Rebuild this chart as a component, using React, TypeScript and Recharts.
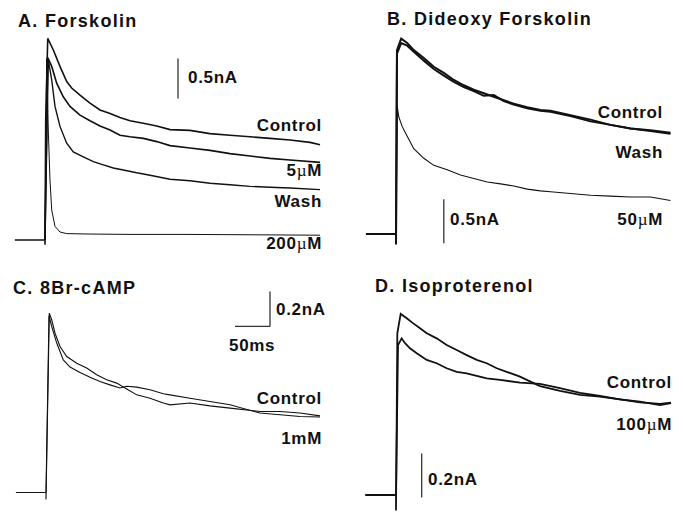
import { Line, LineChart, ReferenceLine, XAxis, YAxis } from "recharts"

// [time from voltage step (ms), current (nA)]
type Pt = [number, number]

// A. Forskolin
const aControl: Pt[] = [
  [-43, 0], [0, 0], [0, -0.06], [1, 1.5], [3.9, 2.52], [11.9, 2.375], [21.4, 2.17],
  [31, 1.98], [38.1, 1.9], [50, 1.81], [64.3, 1.71], [78.6, 1.625], [92.9, 1.58],
  [107.1, 1.53], [121.4, 1.49], [140.4, 1.46], [159.6, 1.425], [178.6, 1.38],
  [207.1, 1.37], [235.7, 1.33], [264.3, 1.31], [292.9, 1.29], [321.4, 1.27],
  [350, 1.25], [378.6, 1.22], [392.9, 1.19],
]
const a5uM: Pt[] = [
  [0, 0], [3.9, 2.28], [9.6, 2.17], [16.7, 1.96], [26.1, 1.79], [35.7, 1.67], [50, 1.56],
  [64.3, 1.49], [78.6, 1.425], [92.9, 1.375], [107.1, 1.31], [121.4, 1.29],
  [140.4, 1.27], [159.6, 1.23], [178.6, 1.18], [207.1, 1.15], [235.7, 1.12],
  [264.3, 1.08], [292.9, 1.05], [321.4, 1.02], [350, 1.0], [392.9, 0.97],
]
const aWash: Pt[] = [
  [0, 0], [4.7, 2.25], [9.6, 2.0], [14.3, 1.67], [21.4, 1.42], [31, 1.21], [40.4, 1.1],
  [54.7, 1.04], [69, 0.98], [83.3, 0.94], [97.6, 0.9], [111.9, 0.875], [131, 0.84],
  [150, 0.81], [178.6, 0.76], [207.1, 0.74], [235.7, 0.71], [264.3, 0.69],
  [292.9, 0.67], [321.4, 0.66], [350, 0.65], [392.9, 0.63],
]
const a200uM: Pt[] = [
  [0, 0], [2.4, 2.27], [4.7, 1.375], [7.1, 0.75], [9.6, 0.375], [14.3, 0.17],
  [21.4, 0.1], [31, 0.08], [60, 0.075], [120, 0.07], [200, 0.07], [300, 0.065],
  [392.9, 0.06],
]

// B. Dideoxy Forskolin
const bControl: Pt[] = [
  [-43, 0], [0, 0], [0, -0.12], [1.4, 2.09], [7.4, 2.22], [16, 2.17], [25.4, 2.09],
  [39.7, 2.0], [54, 1.9], [68.3, 1.83], [82.6, 1.75], [96.9, 1.69], [111.1, 1.64],
  [125.4, 1.6], [139.7, 1.56], [154, 1.52], [168.3, 1.48], [187.4, 1.44],
  [206.4, 1.41], [220.7, 1.4], [249.3, 1.35], [277.9, 1.3], [306.4, 1.24],
  [335, 1.2], [363.6, 1.18], [392.1, 1.15],
]
const bWash: Pt[] = [
  [0, 0], [1.4, 2.05], [7.4, 2.17], [16, 2.14], [25.4, 2.07], [39.7, 1.97],
  [54, 1.875], [68.3, 1.8], [82.6, 1.73], [96.9, 1.67], [111.1, 1.625], [125.4, 1.57],
  [139.7, 1.58], [154, 1.51], [168.3, 1.47], [187.4, 1.43], [206.4, 1.4],
  [220.7, 1.39], [249.3, 1.34], [277.9, 1.28], [306.4, 1.24], [335, 1.2],
  [363.6, 1.17], [392.1, 1.14],
]
const b50uM: Pt[] = [
  [0, 0], [1.7, 1.45], [4, 1.33], [8.9, 1.22], [16, 1.11], [25.4, 0.97], [39.7, 0.86],
  [54, 0.78], [73.1, 0.73], [92.1, 0.67], [111.1, 0.63], [130.3, 0.59], [149.3, 0.57],
  [168.3, 0.545], [187.4, 0.51], [206.4, 0.49], [220.7, 0.48], [249.3, 0.46],
  [277.9, 0.44], [306.4, 0.43], [335, 0.42], [363.6, 0.42], [392.1, 0.38],
]

// C. 8Br-cAMP
const cControl: Pt[] = [
  [-43, 0], [0, 0], [0, -0.04], [4.7, 1.025], [8.1, 0.987], [12.9, 0.91], [20, 0.834],
  [29.6, 0.777], [43.9, 0.739], [58.1, 0.711], [72.4, 0.673], [86.7, 0.644],
  [101, 0.625], [115.3, 0.592], [129.6, 0.558], [148.6, 0.539], [167.6, 0.511],
  [177.1, 0.501], [205.7, 0.511], [234.3, 0.495], [262.9, 0.482], [305.7, 0.463],
  [334.3, 0.463], [362.9, 0.454], [391.4, 0.438],
]
const c1mM: Pt[] = [
  [0, 0], [4.3, 1.01], [8.1, 0.949], [15.3, 0.854], [24.7, 0.758], [34.3, 0.717],
  [48.6, 0.686], [62.9, 0.659], [77.1, 0.634], [91.4, 0.615], [105.7, 0.597],
  [115.3, 0.607], [129.6, 0.602], [148.6, 0.587], [167.6, 0.564], [177.1, 0.558],
  [205.7, 0.539], [234.3, 0.52], [262.9, 0.501], [305.7, 0.454], [334.3, 0.444],
  [362.9, 0.434], [391.4, 0.431],
]

// D. Isoproterenol
const dControl: Pt[] = [
  [-44, 0], [0, 0], [0, -0.07], [1.9, 0.736], [6.7, 0.823], [15.3, 0.803], [24.7, 0.78],
  [34.3, 0.758], [43.9, 0.735], [58.1, 0.712], [72.4, 0.682], [86.7, 0.659],
  [101, 0.636], [115.3, 0.614], [129.6, 0.599], [143.9, 0.576], [158.1, 0.56],
  [177.1, 0.538], [205.7, 0.495], [234.3, 0.473], [262.9, 0.455], [291.4, 0.447],
  [320, 0.435], [348.6, 0.424], [377.1, 0.409], [392.9, 0.418],
]
const d100uM: Pt[] = [
  [0, 0], [2.9, 0.682], [8.1, 0.712], [12.9, 0.69], [20, 0.667], [29.6, 0.644],
  [43.9, 0.614], [58.1, 0.599], [72.4, 0.576], [86.7, 0.56], [101, 0.553],
  [115.3, 0.541], [129.6, 0.53], [148.6, 0.523], [177.1, 0.511], [205.7, 0.505],
  [234.3, 0.486], [262.9, 0.464], [291.4, 0.45], [320, 0.435], [348.6, 0.421],
  [377.1, 0.414], [392.9, 0.42],
]

// scale bars: [[t, i], [t, i]]
const barA: Pt[] = [[190, 1.77], [190, 2.27]]
const barB: Pt[] = [[68.3, -0.106], [68.3, 0.394]]
const barCv: Pt[] = [[320, 0.949], [320, 1.149]]
const barCh: Pt[] = [[270, 0.949], [320, 0.949]]
const barD: Pt[] = [[36.7, -0.011], [36.7, 0.189]]

const PX_PER_MS = 0.7
const FONT = "'Liberation Sans', Arial, Helvetica, sans-serif"

type Trace = { pts: Pt[]; width: number }

type PanelProps = {
  left: number
  top: number
  xDomain: [number, number]
  yDomain: [number, number]
  pxPerNa: number
  traces: Trace[]
  bars: Pt[][]
}

function Panel({ left, top, xDomain, yDomain, pxPerNa, traces, bars }: PanelProps) {
  const width = (xDomain[1] - xDomain[0]) * PX_PER_MS
  const height = (yDomain[1] - yDomain[0]) * pxPerNa
  return (
    <div style={{ position: "absolute", left, top }}>
      <LineChart
        width={width}
        height={height}
        margin={{ top: 0, right: 0, bottom: 0, left: 0 }}
      >
        <XAxis type="number" dataKey="t" domain={xDomain} hide allowDataOverflow />
        <YAxis type="number" dataKey="i" domain={yDomain} hide allowDataOverflow />
        {bars.map((b, k) => (
          <ReferenceLine
            key={"bar" + k}
            segment={[
              { x: b[0][0], y: b[0][1] },
              { x: b[1][0], y: b[1][1] },
            ]}
            stroke="#333"
            strokeWidth={1.3}
          />
        ))}
        {traces.map((tr, k) => (
          <Line
            key={k}
            data={tr.pts.map(([t, i]) => ({ t, i }))}
            dataKey="i"
            type="linear"
            dot={false}
            activeDot={false}
            stroke="#111"
            strokeWidth={tr.width}
            isAnimationActive={false}
          />
        ))}
      </LineChart>
    </div>
  )
}

type Lbl = { text: string; x: number; y: number; end?: boolean; title?: boolean }

const labels: Lbl[] = [
  { text: "A. Forskolin", x: 18, y: 27, title: true },
  { text: "0.5nA", x: 188, y: 83 },
  { text: "Control", x: 322, y: 131, end: true },
  { text: "5µM", x: 322, y: 176, end: true },
  { text: "Wash", x: 322, y: 207, end: true },
  { text: "200µM", x: 322, y: 249, end: true },

  { text: "B. Dideoxy Forskolin", x: 387, y: 25, title: true },
  { text: "Control", x: 663, y: 118, end: true },
  { text: "Wash", x: 663, y: 158, end: true },
  { text: "0.5nA", x: 450, y: 225 },
  { text: "50µM", x: 663, y: 225, end: true },

  { text: "C. 8Br-cAMP", x: 13, y: 294, title: true },
  { text: "0.2nA", x: 276, y: 315 },
  { text: "50ms", x: 229, y: 351 },
  { text: "Control", x: 322, y: 404, end: true },
  { text: "1mM", x: 322, y: 444, end: true },

  { text: "D. Isoproterenol", x: 375, y: 292, title: true },
  { text: "Control", x: 672, y: 388, end: true },
  { text: "100µM", x: 672, y: 430, end: true },
  { text: "0.2nA", x: 428, y: 485 },
]

function Label({ text, x, y, end, title }: Lbl) {
  const parts = text.split("µ")
  return (
    <text
      x={x}
      y={y}
      textAnchor={end ? "end" : "start"}
      fontFamily={FONT}
      fontWeight="bold"
      fontSize={title ? 18 : 17}
      letterSpacing={title ? 1.3 : 0.7}
      fill="#111"
    >
      {parts.map((p, k) => (
        <tspan key={k}>
          {k > 0 && (
            <tspan fontFamily="'Liberation Serif', serif" fontWeight="normal">
              µ
            </tspan>
          )}
          {p}
        </tspan>
      ))}
    </text>
  )
}

export default function App() {
  return (
    <div
      style={{
        position: "absolute",
        left: 0,
        top: 0,
        width: 683,
        height: 512,
        background: "#fff",
        overflow: "hidden",
      }}
    >
      <Panel
        left={3}
        top={16}
        xDomain={[-60, 420]}
        yDomain={[-0.2, 2.8]}
        pxPerNa={80}
        traces={[
          { pts: a200uM, width: 1 },
          { pts: aWash, width: 1.4 },
          { pts: a5uM, width: 1.6 },
          { pts: aControl, width: 1.6 },
        ]}
        bars={[barA]}
      />
      <Panel
        left={353.5}
        top={14}
        xDomain={[-60, 420]}
        yDomain={[-0.25, 2.5]}
        pxPerNa={88}
        traces={[
          { pts: b50uM, width: 1.1 },
          { pts: bWash, width: 2 },
          { pts: bControl, width: 2 },
        ]}
        bars={[barB]}
      />
      <Panel
        left={4}
        top={265.2}
        xDomain={[-60, 420]}
        yDomain={[-0.1, 1.3]}
        pxPerNa={175}
        traces={[
          { pts: c1mM, width: 1.1 },
          { pts: cControl, width: 1.1 },
        ]}
        bars={[barCv, barCh]}
      />
      <Panel
        left={354}
        top={275}
        xDomain={[-60, 410]}
        yDomain={[-0.08, 1.0]}
        pxPerNa={220}
        traces={[
          { pts: d100uM, width: 1.8 },
          { pts: dControl, width: 1.8 },
        ]}
        bars={[barD]}
      />
      <svg
        width={683}
        height={512}
        style={{ position: "absolute", left: 0, top: 0, pointerEvents: "none" }}
      >
        {labels.map((l, k) => (
          <Label key={k} {...l} />
        ))}
      </svg>
    </div>
  )
}
